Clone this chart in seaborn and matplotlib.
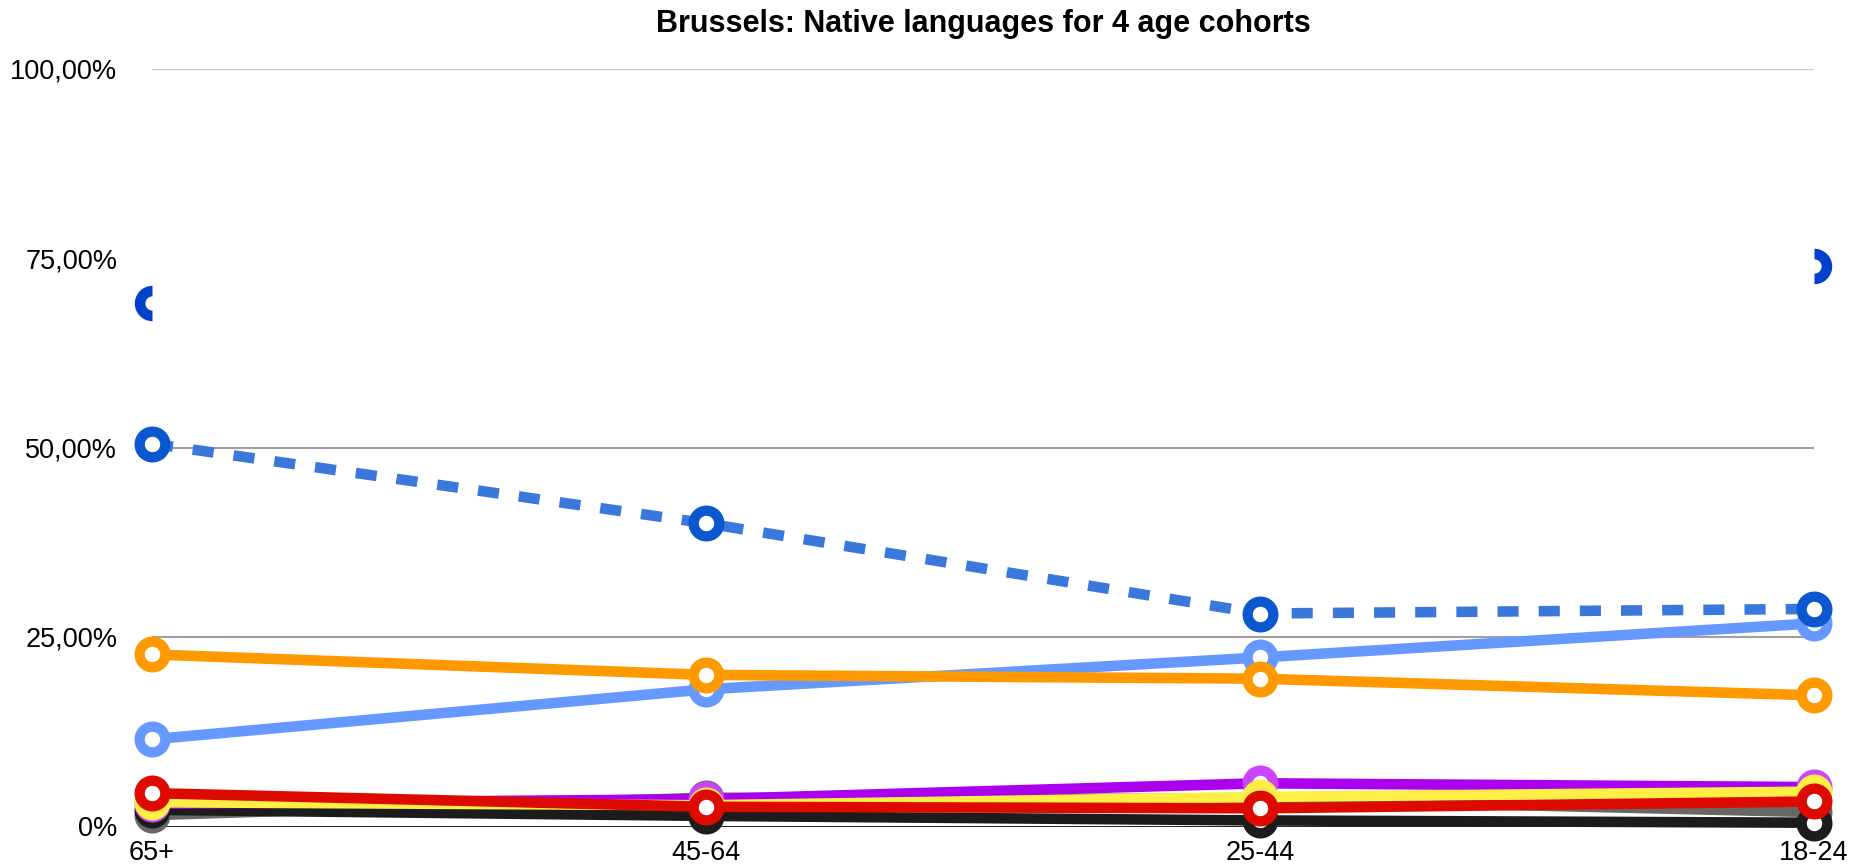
import numpy as np
import pandas as pd
import matplotlib
matplotlib.use("Agg")
import matplotlib.pyplot as plt
from matplotlib.path import Path
import seaborn as sns

# ---------------- data ----------------
categories = ["65+", "45-64", "25-44", "18-24"]
french = [69.1, np.nan, np.nan, 74.0]
dutch_dashed = [50.5, 40.0, 28.1, 28.7]
light_blue = [11.5, 18.1, 22.3, 26.8]
orange = [22.7, 20.0, 19.5, 17.3]
gray = [1.5, 3.8, 3.6, 1.9]
black = [2.2, 1.4, 0.8, 0.5]
purple = [3.0, 3.6, 5.7, 5.2]
yellow = [3.2, 2.8, 3.9, 4.6]
red = [4.4, 2.6, 2.4, 3.3]

ytick_values = [0, 25, 50, 75, 100]
ytick_labels = ["0%", "25,00%", "50,00%", "75,00%", "100,00%"]
title = "Brussels: Native languages for 4 age cohorts"

# ---------------- style ----------------
sns.set_theme(style="white")
plt.rcParams["font.family"] = ["Liberation Sans", "DejaVu Sans"]
plt.rcParams["text.color"] = "black"

W, H = 1863, 868
fig = plt.figure(figsize=(W / 100, H / 100), dpi=100)
ax = fig.add_axes([152 / W, (H - 826.5) / H, (1814 - 152) / W, 758 / H])

LW = 7.6
MS = 18.5
MEW = 7.4

series = [
    # values, line color, marker edge color, dashes, zorder
    (gray, "#676767", "#676767", None, 3),
    (black, "#1c1c1c", "#1c1c1c", None, 4),
    (purple, "#aa00ee", "#cc44ff", None, 5),
    (yellow, "#ffee44", "#ffee44", None, 6),
    (red, "#dd0a00", "#dd0a00", None, 7),
    (light_blue, "#6699ff", "#6699ff", None, 8),
    (orange, "#ff9900", "#ff9900", None, 9),
    (dutch_dashed, "#3a78dc", "#0b57d0", (2.0, 1.9), 10),
]

for vals, lc, mc, dashes, z in series:
    df = pd.DataFrame({"cohort": categories, "value": vals})
    kw = {}
    if dashes is not None:
        kw["dashes"] = dashes
    sns.lineplot(data=df, x="cohort", y="value", ax=ax, sort=False,
                 color=lc, lw=LW, zorder=z, clip_on=False,
                 solid_capstyle="butt", dash_capstyle="butt", **kw)
    ax.plot(df["cohort"], df["value"], ls="none", marker="o", ms=MS,
            mfc="white", mec=mc, mew=MEW, zorder=z + 0.5, clip_on=False)


# French: only outer half-rings visible at the two ends
def half_ring(side):
    r_in = 0.40
    if side == "left":
        t = np.linspace(np.pi / 2, 3 * np.pi / 2, 40)
    else:
        t = np.linspace(-np.pi / 2, np.pi / 2, 40)
    outer = np.column_stack([np.cos(t), np.sin(t)])
    inner = np.column_stack([r_in * np.cos(t[::-1]), r_in * np.sin(t[::-1])])
    verts = np.vstack([outer, inner, outer[:1]])
    codes = [Path.MOVETO] + [Path.LINETO] * (len(verts) - 2) + [Path.CLOSEPOLY]
    return Path(verts, codes)


fr_color = "#0040cc"
ax.plot([categories[0]], [french[0]], ls="none", marker=half_ring("left"),
        ms=25.5, mfc=fr_color, mec="none", mew=0, zorder=12, clip_on=False)
ax.plot([categories[-1]], [french[-1]], ls="none", marker=half_ring("right"),
        ms=25.5, mfc=fr_color, mec="none", mew=0, zorder=12, clip_on=False)

# gridlines
grid_styles = {0: ("#111111", 1.3), 25: ("#a0a0a0", 1.5), 50: ("#a0a0a0", 1.5),
               100: ("#cccccc", 1.0)}
for v in ytick_values:
    if v in grid_styles:
        c, w = grid_styles[v]
        ax.axhline(v, color=c, lw=w, zorder=1)

ax.set_xlim(0, len(categories) - 1)
ax.set_ylim(0, 100)
ax.set_yticks(ytick_values)
ax.set_yticklabels(ytick_labels)
ax.set_xlabel("")
ax.set_ylabel("")
ax.tick_params(axis="y", length=0, pad=25, labelsize=19.5, colors="black")
ax.tick_params(axis="x", length=0, pad=10, labelsize=19.5, colors="black")
for s in ax.spines.values():
    s.set_visible(False)
ax.grid(False)

fig.text(0.5 * (152 + 1814) / W, 1 - 24 / H, title, ha="center",
         va="center", fontsize=22, fontweight="bold", color="black")

fig.savefig("out.png", dpi=100, facecolor="white")
